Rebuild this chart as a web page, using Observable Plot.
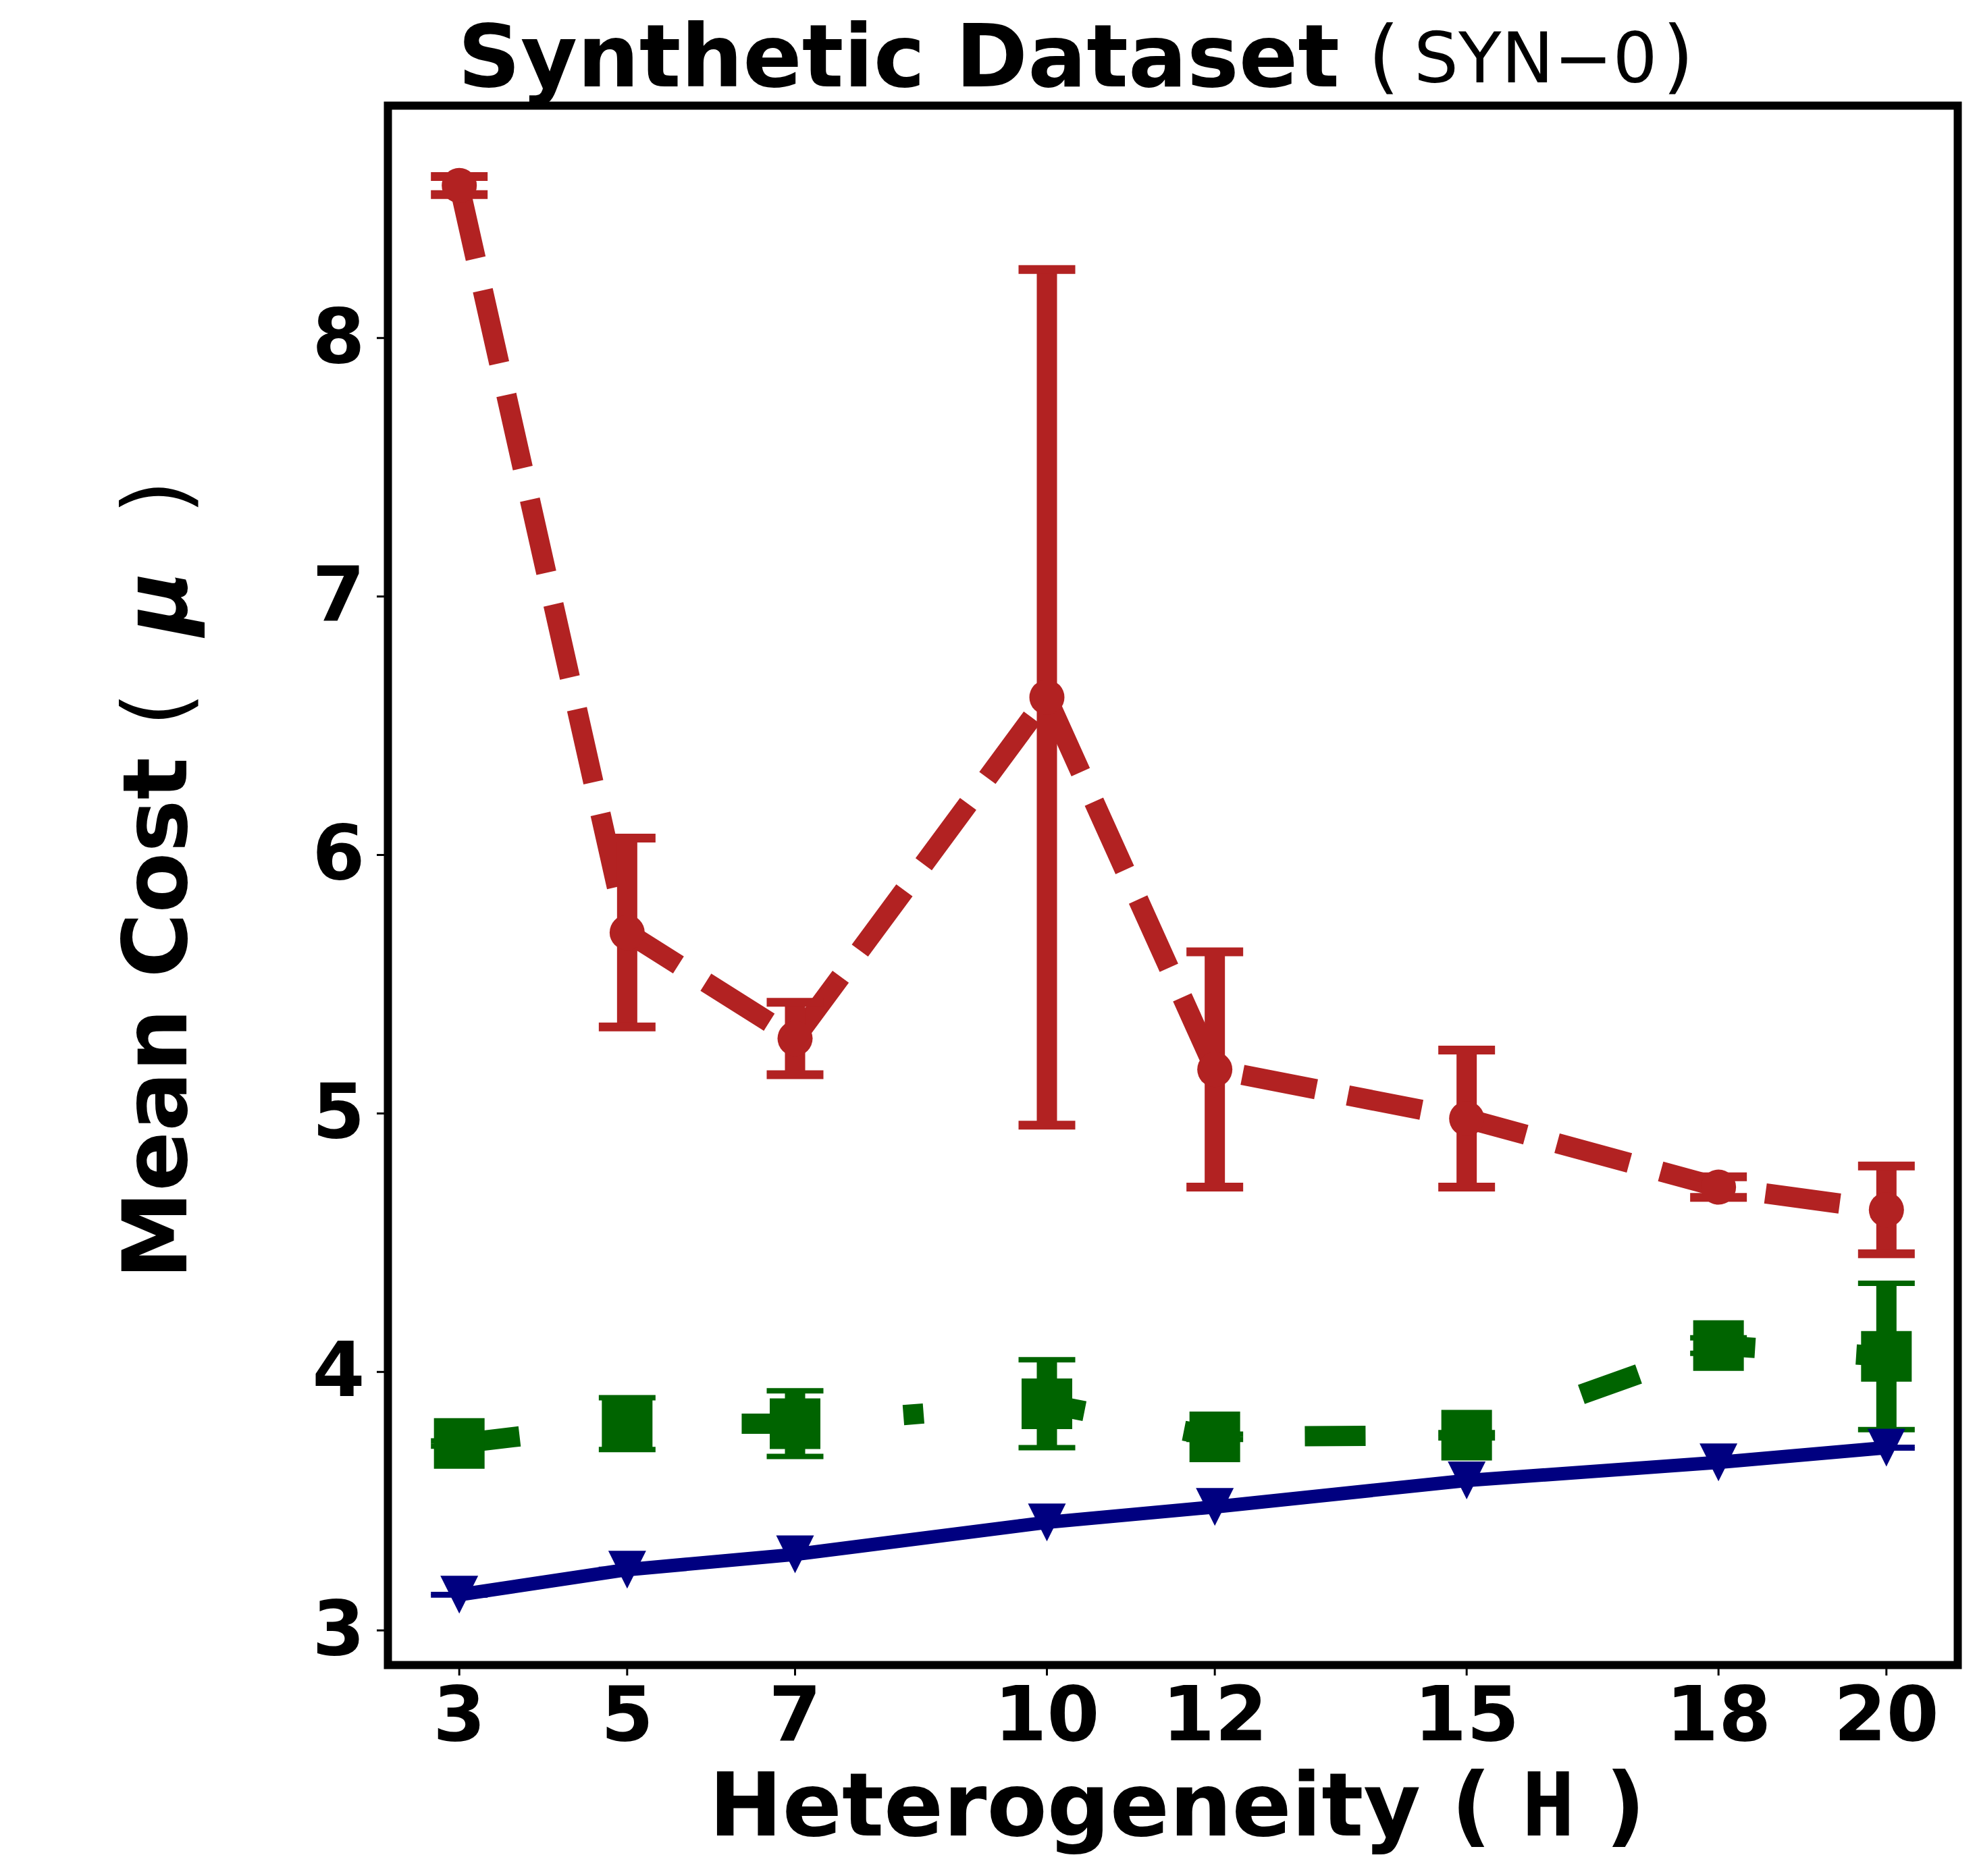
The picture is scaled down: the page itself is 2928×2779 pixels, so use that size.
<!DOCTYPE html>
<html>
<head>
<meta charset="utf-8">
<script src="https://cdn.jsdelivr.net/npm/d3@7"></script>
<script src="https://cdn.jsdelivr.net/npm/@observablehq/plot@0.6"></script>
<style>
  html, body { margin: 0; padding: 0; background: #fff; }
  #chart svg { display: block; }
</style>
</head>
<body>
<div id="chart"></div>
<script>
// ---- data ----
const H = [3, 5, 7, 10, 12, 15, 18, 20];
const xTicks = [3, 5, 7, 10, 12, 15, 18, 20];
const yTicks = [3, 4, 5, 6, 7, 8];

const redMean   = [8.59, 5.70, 5.29, 6.61, 5.17, 4.98, 4.715, 4.627];
const redErr    = [0.035, 0.365, 0.14, 1.655, 0.455, 0.265, 0.04, 0.17];
const greenMean = [3.723, 3.80, 3.80, 3.877, 3.749, 3.755, 4.102, 4.06];
const greenErr  = [0.01, 0.10, 0.127, 0.17, 0.01, 0.01, 0.03, 0.283];
const blueMean  = [3.138, 3.235, 3.294, 3.418, 3.478, 3.58, 3.65, 3.707];
const blueErr   = [0.005, 0.005, 0.005, 0.005, 0.005, 0.005, 0.005, 0.005];

// ---- styles ----
const capSymbol = {draw(ctx, size) { const r = Math.sqrt(size / Math.PI); ctx.moveTo(-r, 0); ctx.lineTo(r, 0); }};
const squareSymbol = {draw(ctx, size) { const r = Math.sqrt(size / Math.PI); ctx.rect(-r, -r, 2 * r, 2 * r); }};
const triDownSymbol = {draw(ctx, size) { const r = Math.sqrt(size / Math.PI); ctx.moveTo(0, r); ctx.lineTo(-r, -r); ctx.lineTo(r, -r); ctx.closePath(); }};

const series = [
  {mean: redMean, err: redErr, color: "#b22222", lw: 30, dash: "111,48", bar: 30, capR: 42, capT: 13, symbol: "circle", r: 26},
  {mean: greenMean, err: greenErr, color: "#006400", lw: 30, dash: "90,150,30,150", bar: 30, capR: 42, capT: 8, symbol: squareSymbol, r: 37.5},
  {mean: blueMean, err: blueErr, color: "#000080", lw: 20, dash: null, bar: 20, capR: 42, capT: 5, symbol: triDownSymbol, r: 28}
];

const marks = [];
for (const s of series) {
  const rows = H.map((h, i) => ({H: h, mean: s.mean[i], lo: s.mean[i] - s.err[i], hi: s.mean[i] + s.err[i]}));
  marks.push(Plot.line(rows, {x: "H", y: "mean", stroke: s.color, strokeWidth: s.lw,
    strokeDasharray: s.dash || undefined, strokeLinejoin: "round", strokeLinecap: "butt"}));
  marks.push(Plot.ruleX(rows, {x: "H", y1: "lo", y2: "hi", stroke: s.color, strokeWidth: s.bar}));
  marks.push(Plot.dot(rows, {x: "H", y: "lo", symbol: capSymbol, r: s.capR, stroke: s.color, strokeWidth: s.capT, fill: "none"}));
  marks.push(Plot.dot(rows, {x: "H", y: "hi", symbol: capSymbol, r: s.capR, stroke: s.color, strokeWidth: s.capT, fill: "none"}));
  marks.push(Plot.dot(rows, {x: "H", y: "mean", symbol: s.symbol, r: s.r, fill: s.color, stroke: "none"}));
}

const chart = Plot.plot({
  width: 2928,
  height: 2779,
  marginLeft: 574,
  marginRight: 29,
  marginTop: 156,
  marginBottom: 313,
  style: {fontFamily: "DejaVu Sans", fontSize: "112px", fontWeight: "bold", color: "#000", background: "#fff"},
  x: {type: "linear", domain: [2.15, 20.85]},
  y: {type: "linear", domain: [2.866, 8.899]},
  marks: [
    ...marks,
    Plot.axisX({ticks: xTicks, tickSize: 16, tickPadding: 16, strokeWidth: 3, fontSize: 112, fontWeight: "bold", label: null, tickFormat: d => String(d)}),
    Plot.axisY({ticks: yTicks, tickSize: 16, tickPadding: 18, strokeWidth: 3, fontSize: 112, fontWeight: "bold", label: null, tickFormat: d => String(d)}),
    Plot.frame({stroke: "#000", strokeWidth: 12})
  ]
});

document.getElementById("chart").appendChild(chart);

// ---- title and axis labels ----
const svg = d3.select(chart);

const title = svg.append("g").attr("fill", "#000").attr("font-family", "DejaVu Sans").attr("text-anchor", "start");
title.append("text").attr("x", 678).attr("y", 128).attr("font-size", 129).attr("font-weight", "bold").text("Synthetic Dataset");
title.append("text").attr("x", 2026).attr("y", 124).attr("font-size", 120).attr("font-weight", "normal").text("(");
title.append("text").attr("x", 2094).attr("y", 122).attr("font-size", 104).attr("font-weight", "normal").text("SYN\u22120");
title.append("text").attr("x", 2462).attr("y", 124).attr("font-size", 120).attr("font-weight", "normal").text(")");

const xl = svg.append("text")
  .attr("x", 1050).attr("y", 2719).attr("text-anchor", "start")
  .attr("font-family", "DejaVu Sans").attr("font-size", 130).attr("fill", "#000");
xl.append("tspan").attr("font-weight", "bold").text("Heterogeneity ");
xl.append("tspan").attr("font-weight", "bold").text("( ");
xl.append("tspan").attr("font-family", "DejaVu Sans Mono").attr("font-weight", "bold").text("H");
xl.append("tspan").attr("font-weight", "bold").text(" )");

const yl = svg.append("text")
  .attr("transform", "translate(276,1303) rotate(-90)")
  .attr("text-anchor", "middle")
  .attr("font-family", "DejaVu Sans").attr("font-size", 131).attr("fill", "#000");
yl.append("tspan").attr("font-weight", "bold").text("Mean Cost ");
yl.append("tspan").attr("font-weight", "normal").text("(  ");
yl.append("tspan").attr("font-weight", "bold").attr("font-style", "italic").text("\u03bc");
yl.append("tspan").attr("font-weight", "normal").text("  )");
</script>
</body>
</html>
